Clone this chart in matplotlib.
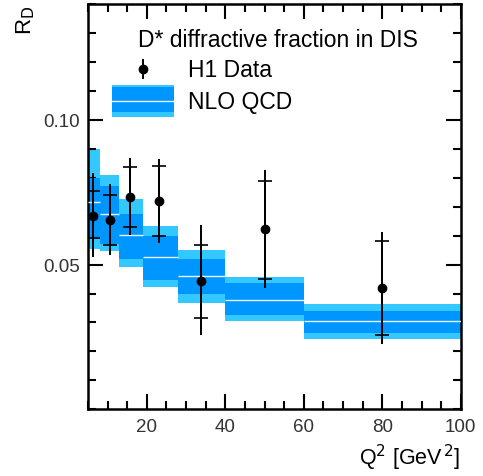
import matplotlib
matplotlib.use("Agg")
import matplotlib.pyplot as plt
from matplotlib.patches import Rectangle
from matplotlib.ticker import MultipleLocator
import numpy as np

plt.rcParams['font.family'] = ['Liberation Sans', 'DejaVu Sans']

# NLO QCD prediction per Q^2 bin
bin_edges = [5, 8, 13, 19, 28, 40, 60, 100]
nlo_central = [0.0718, 0.0674, 0.0603, 0.0526, 0.0462, 0.0378, 0.0304]
nlo_outer_hi = [0.0900, 0.0808, 0.0726, 0.0635, 0.0552, 0.0458, 0.0363]
nlo_inner_hi = [0.0800, 0.0772, 0.0675, 0.0600, 0.0520, 0.0435, 0.0340]
nlo_inner_lo = [0.0590, 0.0572, 0.0520, 0.0446, 0.0398, 0.0326, 0.0264]
nlo_outer_lo = [0.0555, 0.0546, 0.0492, 0.0421, 0.0367, 0.0306, 0.0243]

# H1 data points
q2 = [6.3, 10.6, 15.8, 23.1, 33.8, 50, 80]
rd = [0.0667, 0.0654, 0.0735, 0.0720, 0.0443, 0.0622, 0.0420]
stat_hi = [0.0754, 0.0740, 0.0838, 0.0842, 0.0566, 0.0789, 0.0580]
stat_lo = [0.0592, 0.0568, 0.0629, 0.0598, 0.0317, 0.0449, 0.0255]
tot_hi = [0.0815, 0.0777, 0.0869, 0.0866, 0.0637, 0.0826, 0.0614]
tot_lo = [0.0527, 0.0534, 0.0603, 0.0575, 0.0257, 0.0420, 0.0224]

light = '#33c8ff'
dark = '#0096ff'

fig = plt.figure(figsize=(4.83, 4.77), dpi=100)
ax = fig.add_axes([0.182, 0.140, 0.772, 0.849])

edges = np.array(bin_edges)
left = edges[:-1]
width = np.diff(edges)
oh, ol = np.array(nlo_outer_hi), np.array(nlo_outer_lo)
ih, il = np.array(nlo_inner_hi), np.array(nlo_inner_lo)
ax.bar(left, oh - ol, width=width, bottom=ol, align='edge', color=light, lw=0, zorder=1)
ax.bar(left, ih - il, width=width, bottom=il, align='edge', color=dark, lw=0, zorder=2)
ax.hlines(nlo_central, left, edges[1:], colors='#e8f6ff', lw=1.0, zorder=3)

x = np.array(q2)
y = np.array(rd)
ax.errorbar(x, y, yerr=[y - np.array(tot_lo), np.array(tot_hi) - y], fmt='none',
            ecolor='black', elinewidth=1.4, capsize=0, zorder=4)
ax.errorbar(x, y, yerr=[y - np.array(stat_lo), np.array(stat_hi) - y], fmt='o',
            color='black', ms=6, elinewidth=1.4, capsize=5, capthick=1.2, zorder=5)

ax.set_xlim(5, 100)
ax.set_ylim(0, 0.14)
ax.xaxis.set_major_locator(MultipleLocator(20))
ax.xaxis.set_minor_locator(MultipleLocator(5))
ax.yaxis.set_major_locator(MultipleLocator(0.05))
ax.yaxis.set_minor_locator(MultipleLocator(0.01))
ax.set_yticks([0.05, 0.10])
ax.set_yticklabels(['0.05', '0.10'])
ax.set_xticks([20, 40, 60, 80, 100])
ax.tick_params(which='both', direction='in', top=True, right=True, width=1.5,
               labelsize=13.5, labelcolor='#333333', pad=6)
ax.tick_params(which='major', length=11)
ax.tick_params(which='minor', length=6)
for s in ax.spines.values():
    s.set_linewidth(1.8)

ax.set_xlabel('Q$^2$ [GeV$^{\\,2}$]', fontsize=15.5, loc='right', labelpad=5)
ax.set_ylabel('R$_{\\rm D}$', fontsize=16, loc='top', labelpad=4)

# legend drawn by hand
ax.text(0.135, 0.914, 'D* diffractive fraction in DIS', transform=ax.transAxes,
        fontsize=16.5, va='center', ha='left')
ax.plot([0.147, 0.147], [0.818, 0.862], color='black', lw=1.4, transform=ax.transAxes)
ax.plot([0.147], [0.840], 'o', color='black', ms=6, transform=ax.transAxes)
ax.text(0.268, 0.840, 'H1 Data', transform=ax.transAxes, fontsize=16.5, va='center')
ax.add_patch(Rectangle((0.064, 0.721), 0.167, 0.079, transform=ax.transAxes,
                       color=light, lw=0))
ax.add_patch(Rectangle((0.064, 0.733), 0.167, 0.062, transform=ax.transAxes,
                       color=dark, lw=0))
ax.plot([0.064, 0.231], [0.762, 0.762], color='#e8f6ff', lw=1.0, transform=ax.transAxes)
ax.text(0.268, 0.760, 'NLO QCD', transform=ax.transAxes, fontsize=16.5, va='center')

fig.savefig('out.png', dpi=100)
